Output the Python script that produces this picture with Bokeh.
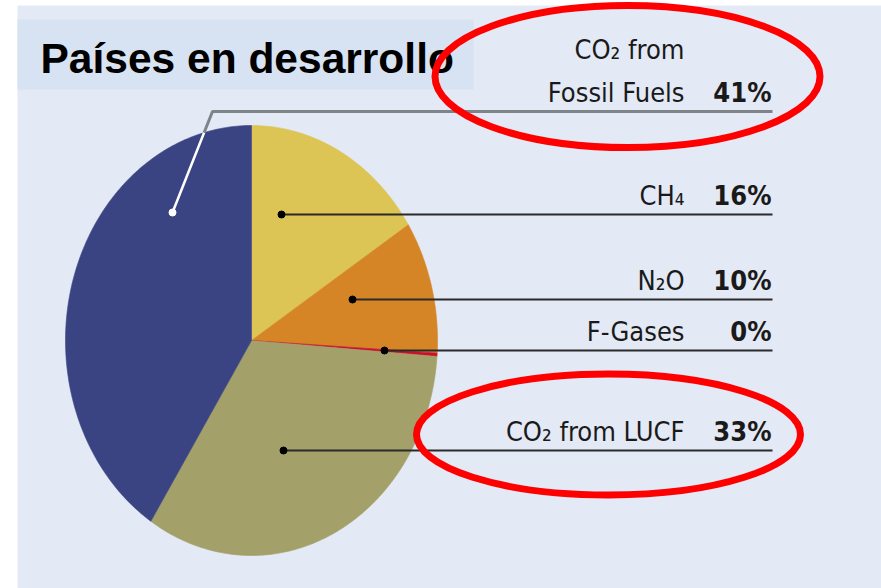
import numpy as np
from bokeh.plotting import figure
from bokeh.models import Range1d
from bokeh.core.properties import value
from bokeh.embed import file_html
from bokeh.resources import INLINE

# ---------------- data ----------------
title = "Países en desarrollo"
categories = ["CH₄", "N₂O", "F-Gases", "CO₂ from LUCF", "CO₂ from\nFossil Fuels"]
shares = [16, 10, 0.25, 33, 41]
pct_labels = ["16%", "10%", "0%", "33%", "41%"]
colors = ["#dcc554", "#d68526", "#c8102e", "#a3a06a", "#3b4483"]

# ---------------- layout (page pixel coordinates) ----------------
W, H = 881, 588
X0, Y0 = 0, 0
CX, CY, RX, RY = 251, 340, 186, 215          # pie centre and radii
line_ys = [214, 299, 350, 450, 111]          # leader line heights
dot_pos = [(281, 214), (352, 299), (384, 350), (283, 450), (172, 212)]
fossil_corner = (212, 111)
LINE_END = 772
NAME_X, PCT_X = 684, 771
LABEL_FONT = "'DejaVu Sans Condensed', 'Roboto Condensed', 'Liberation Sans Narrow', Roboto, sans-serif"

p = figure(width=W, height=H, x_range=Range1d(X0, X0 + W), y_range=Range1d(Y0 + H, Y0),
           output_backend="svg", toolbar_location=None, min_border=0,
           x_axis_location=None, y_axis_location=None)
p.grid.visible = False
p.outline_line_color = None
p.background_fill_color = "white"
p.border_fill_color = "white"

# background panel
p.quad(left=17, right=900, top=5, bottom=600, fill_color="#e3e9f5", line_color=None)
# title box
p.quad(left=17, right=473, top=19, bottom=89, fill_color="#d7e2f2", line_color=None)
p.text(x=[40], y=[58], text=[title], text_font=value("Liberation Sans"), text_font_size="42.5px",
       text_font_style="bold", text_color="black", text_align="left", text_baseline="alphabetic")

# ---------------- elliptical pie ----------------
frac = np.array(shares, dtype=float) / np.sum(shares)
ends = np.cumsum(frac) * 2 * np.pi
starts = ends - frac * 2 * np.pi
xs_list, ys_list = [], []
for s, e in zip(starts, ends):
    th = np.linspace(s, e, max(3, int((e - s) / (2 * np.pi) * 400) + 2))
    xs_list.append([CX] + list(CX + RX * np.sin(th)))
    ys_list.append([CY] + list(CY - RY * np.cos(th)))
p.patches(xs_list, ys_list, fill_color=colors, line_color=colors, line_width=0.6)

# ---------------- leader lines ----------------
for (dx, dy), ly in zip(dot_pos[:4], line_ys[:4]):
    p.segment(x0=[dx], y0=[ly], x1=[LINE_END], y1=[ly], line_color="#2a2a2a", line_width=2)
p.scatter(x=[d[0] for d in dot_pos[:4]], y=[d[1] for d in dot_pos[:4]], size=7,
          fill_color="black", line_color="black")

# fossil fuels leader: white inside the pie, grey outside
fx, fy = dot_pos[4]
kx, ky = fossil_corner
t = np.linspace(0, 1, 2000)
px = fx + (kx - fx) * t
py = fy + (ky - fy) * t
inside = ((px - CX) / RX) ** 2 + ((py - CY) / RY) ** 2 <= 1
k = np.argmax(~inside)
ex, ey = px[k], py[k]
p.segment(x0=[fx], y0=[fy], x1=[ex], y1=[ey], line_color="white", line_width=2.5)
p.line(x=[ex, kx, LINE_END], y=[ey, ky, line_ys[4]], line_color="#7f8489", line_width=3)
p.scatter(x=[fx], y=[fy], size=7, fill_color="white", line_color="white")

# ---------------- labels ----------------
nx, ny, nt = [], [], []
for c, ly in zip(categories, line_ys):
    lines = c.split("\n")
    for j, ln in enumerate(reversed(lines)):
        nx.append(NAME_X)
        ny.append(ly - 19 - 43 * j)
        nt.append(ln)
p.text(x=nx, y=ny, text=nt, text_font=value(LABEL_FONT), text_font_size="27px",
       text_color="#1a1a1a", text_align="right", text_baseline="alphabetic")
p.text(x=[PCT_X] * len(pct_labels), y=[ly - 19 for ly in line_ys], text=pct_labels,
       text_font=value(LABEL_FONT), text_font_size="27px", text_font_style="bold",
       text_color="#1a1a1a", text_align="right", text_baseline="alphabetic")

# ---------------- red highlight ellipses ----------------
p.ellipse(x=[627, 608], y=[76, 434], width=[385, 384], height=[142, 121],
          fill_color=None, line_color="#ff0000", line_width=7)

open("out.html", "w").write(file_html(p, INLINE))
